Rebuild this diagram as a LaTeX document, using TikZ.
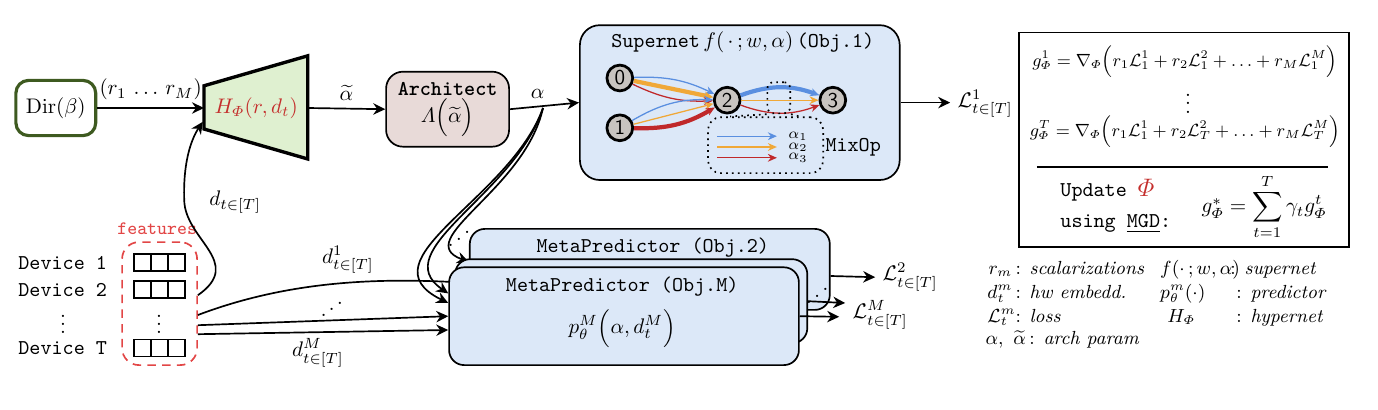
\documentclass[tikz,border=0pt]{standalone}
\usepackage{amsmath}
\usepackage{graphicx}
\usetikzlibrary{arrows.meta}
\definecolor{dirgreen}{RGB}{62,90,32}
\definecolor{hypgreen}{RGB}{223,240,208}
\definecolor{hypred}{RGB}{196,46,44}
\definecolor{archpink}{RGB}{232,218,216}
\definecolor{boxblue}{RGB}{220,232,248}
\definecolor{opgray}{RGB}{200,196,192}
\definecolor{opblue}{RGB}{90,143,224}
\definecolor{oporange}{RGB}{240,168,56}
\definecolor{opred}{RGB}{192,40,42}
\definecolor{featred}{RGB}{226,70,70}

\begin{document}
\begin{tikzpicture}[
        >={Stealth[length=2mm,width=1.9mm]},
        box/.style={rectangle, draw, rounded corners=6pt, align=center},
        mpbox/.style={box, fill=boxblue, thick, rounded corners=0.25cm},
        op/.style={circle, draw, line width=1.3pt, fill=opgray, minimum size=0.43cm, inner sep=0pt, font=\sffamily},
        opedge/.style={-{Stealth[length=1.5mm,width=1.3mm]}},
        cell/.style={rectangle, draw, thick, minimum size=0.283cm, inner sep=0pt},
        arr/.style={->, thick},
        leg/.style={anchor=base west, inner sep=0pt, font=\small}
    ]
        \useasboundingbox (0,0) rectangle (22.967,-6.833);

        \node[box, draw=dirgreen, line width=1.5pt, minimum width=1.33cm, minimum height=0.92cm] (dir) at (0.93,-1.80) {$\mathrm{Dir}(\beta)$};

        \draw[line width=1.6pt, fill=hypgreen] (3.40,-1.43) -- (5.13,-0.93) -- (5.13,-2.65) -- (3.40,-2.15) -- cycle;
        \node[text=hypred] (hyper) at (4.27,-1.80) {$H_{\varPhi}(r,d_t)$};
        \coordinate (hypL) at (3.40,-1.80);
        \coordinate (hypLb) at (3.38,-2.03);
        \coordinate (hypR) at (5.13,-1.80);

        \node[box, fill=archpink, thick, rounded corners=8pt, minimum width=2.05cm, minimum height=1.25cm] (arch) at (7.46,-1.82) {\texttt{\textbf{Architect}}\\[1pt] $\varLambda\Big(\widetilde{\alpha}\Big)$};

        \node[box, fill=boxblue, thick, rounded corners=0.33cm, minimum width=5.33cm, minimum height=2.58cm] (sup) at (12.33,-1.71) {};
        \node (suptitle) at (12.38,-0.70) {\texttt{Supernet}\,$f(\,\cdot\,;w,\alpha)$\,\texttt{(Obj.1)}};

        \node[op] (n0) at (10.33,-1.30) {0};
        \node[op] (n1) at (10.33,-2.13) {1};
        \node[op] (n2) at (12.12,-1.67) {2};
        \node[op] (n3) at (13.88,-1.67) {3};

        \draw[opedge, opblue, semithick] (n0) to[bend left=14] (n2);
        \draw[opedge, oporange, line width=2pt] (n0) -- (n2);
        \draw[opedge, opred, semithick] (n0) to[bend right=14] (n2);
        \draw[opedge, opblue, semithick] (n1) to[bend left=16] (n2);
        \draw[opedge, oporange, semithick] (n1) -- (n2);
        \draw[opedge, opred, line width=2pt] (n1) to[bend right=16] (n2);
        \draw[opedge, opblue, line width=2pt] (n2) to[bend left=20] (n3);
        \draw[opedge, oporange, semithick] (n2) -- (n3);
        \draw[opedge, opred, semithick] (n2) to[bend right=20] (n3);

        \node[draw, dotted, thick, rounded corners=3pt, minimum width=0.38cm, minimum height=0.52cm] (mix) at (12.98,-1.63) {};
        \node[draw, dotted, thick, rounded corners=6pt, minimum width=1.92cm, minimum height=0.93cm] (mixleg) at (12.76,-2.42) {};
        \draw[dotted, thick] (mix.south west) -- ([xshift=-0.59cm]mixleg.north);
        \draw[dotted, thick] (mix.south east) -- ([xshift=0.57cm]mixleg.north);
        \foreach \i/\c/\y in {1/opblue/-2.27, 2/oporange/-2.45, 3/opred/-2.63} {
            \node[font=\scriptsize, inner sep=1pt] (a\i) at (13.30,\y) {$\alpha_\i$};
            \coordinate (s\i) at (11.95,\y);
            \draw[opedge, \c, semithick] (s\i) -- ([xshift=-0.15cm]a\i.west);
        }
        \node[font=\ttfamily] (mixop) at (14.22,-2.45) {MixOp};

        \node (l1) at (16.42,-1.73) {$\mathcal{L}^1_{t\in[T]}$};

        \node[draw, thick, minimum width=5.5cm, minimum height=3.58cm] (eqbox) at (19.73,-2.33) {};
        \node[font=\small] (g1) at (19.75,-1.03) {\scalebox{0.93}{$g^1_{\varPhi} = \nabla_{\varPhi}\Big(r_1\mathcal{L}^1_1 + r_2\mathcal{L}^2_1 + \ldots + r_M\mathcal{L}^M_1\Big)$}};
        \node (gdots) at (19.80,-1.62) {$\vdots$};
        \node[font=\small] (gT) at (19.75,-2.20) {\scalebox{0.93}{$g^T_{\varPhi} = \nabla_{\varPhi}\Big(r_1\mathcal{L}^1_1 + r_2\mathcal{L}^2_T + \ldots + r_M\mathcal{L}^M_T\Big)$}};
        \draw[thick] (17.28,-2.78) -- (22.13,-2.78);
        \node[align=left, font=\ttfamily, anchor=west] (upd) at (17.55,-3.43) {Update {\large\textcolor{hypred}{$\varPhi$}}\\[3pt] using \underline{MGD}:};
        \node (gstar) at (21.07,-3.45) {$g^*_{\varPhi} = \displaystyle\sum_{t=1}^{T}\gamma_t g^t_{\varPhi}$};

        \node[leg] (k1) at (16.47,-4.58) {$r_m$};
        \node[leg] (v1) at (16.92,-4.58) {: \textit{scalarizations}};
        \node[leg] (k2) at (16.45,-4.98) {$d^m_t$};
        \node[leg] (v2) at (16.92,-4.98) {: \textit{hw embedd.}};
        \node[leg] (k3) at (16.45,-5.37) {$\mathcal{L}^m_t$};
        \node[leg] (v3) at (16.92,-5.37) {: \textit{loss}};
        \node[leg] (k4) at (16.42,-5.75) {$\alpha,\ \widetilde{\alpha}$};
        \node[leg] (v4) at (17.15,-5.75) {: \textit{arch param}};
        \node[leg] (k5) at (19.33,-4.58) {$f(\cdot\,;w,\alpha)$};
        \node[leg] (v5) at (20.50,-4.58) {: \textit{supernet}};
        \node[leg] (k6) at (19.33,-4.98) {$p^m_{\theta}(\cdot)$};
        \node[leg] (v6) at (20.60,-4.98) {: \textit{predictor}};
        \node[leg] (k7) at (19.45,-5.37) {$H_{\varPhi}$};
        \node[leg] (v7) at (20.60,-5.37) {: \textit{hypernet}};

        \foreach \r/\y in {1/-4.38, 2/-4.83, T/-5.80} {
            \node[anchor=west, font=\ttfamily, inner sep=0pt] (dev\r) at (0.30,\y) {Device \r};
            \foreach \c/\x in {1/2.375, 2/2.66, 3/2.94}
                \node[cell] (cell\r\c) at (\x,\y) {};
        }
        \node (devdots) at (1.05,-5.30) {$\vdots$};
        \node (celldots) at (2.65,-5.30) {$\vdots$};
        \node[draw=featred, dashed, dash pattern=on 4pt off 3pt, thick, rounded corners=8pt, minimum width=1.25cm, minimum height=2.05cm] (feat) at (2.66,-5.06) {};
        \node[text=featred, font=\small\ttfamily] (feattag) at (2.62,-3.82) {features};

        \coordinate (alpha) at (9.05,-1.80);

        \node[mpbox, minimum width=6.0cm, minimum height=1.35cm] (mp2) at (10.83,-4.49) {};
        \node (mp2title) at (10.88,-4.12) {\texttt{MetaPredictor (Obj.2)}};
        \draw[arr] (alpha) .. controls (8.75,-3.17) and (6.83,-4.0) .. ([yshift=0.125cm]mp2.west);
        \draw[arr] ([yshift=-0.19cm]feat.east) .. controls (4.83,-4.67) and (6.33,-4.63) .. ([yshift=-0.225cm]mp2.west);

        \node[mpbox, minimum width=5.87cm, minimum height=1.40cm] (mpmid) at (10.52,-5.02) {};
        \node[mpbox, minimum width=5.83cm, minimum height=1.63cm] (mpM) at (10.40,-5.27) {};
        \node (mpMtitle) at (10.37,-4.77) {\texttt{MetaPredictor (Obj.M)}};
        \node (mpMeq) at (10.37,-5.47) {$p^M_{\theta}\Big(\alpha, d^M_t\Big)$};

        \draw[arr] (dir) -- node[above] {$(r_1\,\ldots\,r_M)$} (hypL);
        \draw[arr] (hypR) -- node[above] {$\widetilde{\alpha}$} (arch.west);
        \draw[arr] (arch.east) -- node[above, pos=0.4] {$\alpha$} (sup.west);
        \draw[arr] (sup.east) -- (sup.east -| l1.west);
        \draw[arr] ([yshift=0.14cm]feat.east) .. controls (4.08,-4.37) and (3.08,-4.0) .. (3.07,-3.33) .. controls (3.05,-2.67) and (3.2,-2.3) .. (hypLb);
        \node (dlab) at (3.92,-3.37) {$d_{t\in[T]}$};

        \draw[arr] (alpha) .. controls (8.50,-3.33) and (6.00,-4.33) .. ([yshift=0.22cm]mpM.west);
        \draw[arr] (alpha) .. controls (8.58,-3.25) and (6.42,-4.17) .. ([yshift=0.38cm]mpM.west);
        \node (adots) at (7.65,-3.88) {\reflectbox{$\ddots$}};

        \draw[arr] ([yshift=-0.36cm]feat.east) -- (mpM.west);
        \draw[arr] ([yshift=-0.51cm]feat.east) -- ([yshift=-0.23cm]mpM.west);
        \node (d1lab) at (5.80,-4.33) {$d^1_{t\in[T]}$};
        \node (ddots) at (5.53,-5.05) {\reflectbox{$\ddots$}};
        \node (dMlab) at (5.30,-5.88) {$d^M_{t\in[T]}$};

        \node (l2) at (15.17,-4.62) {$\mathcal{L}^2_{t\in[T]}$};
        \node (lM) at (14.67,-5.25) {$\mathcal{L}^M_{t\in[T]}$};
        \draw[arr] ([yshift=-0.11cm]mp2.east) -- (l2.west);
        \draw[arr] (mpmid.east) -- ([yshift=0.2cm]lM.west);
        \draw[arr] (mpM.east) -- ([xshift=-0.1cm,yshift=-0.03cm]lM.west);
        \node (odots) at (13.62,-4.83) {\reflectbox{$\ddots$}};
    \end{tikzpicture}
\end{document}
